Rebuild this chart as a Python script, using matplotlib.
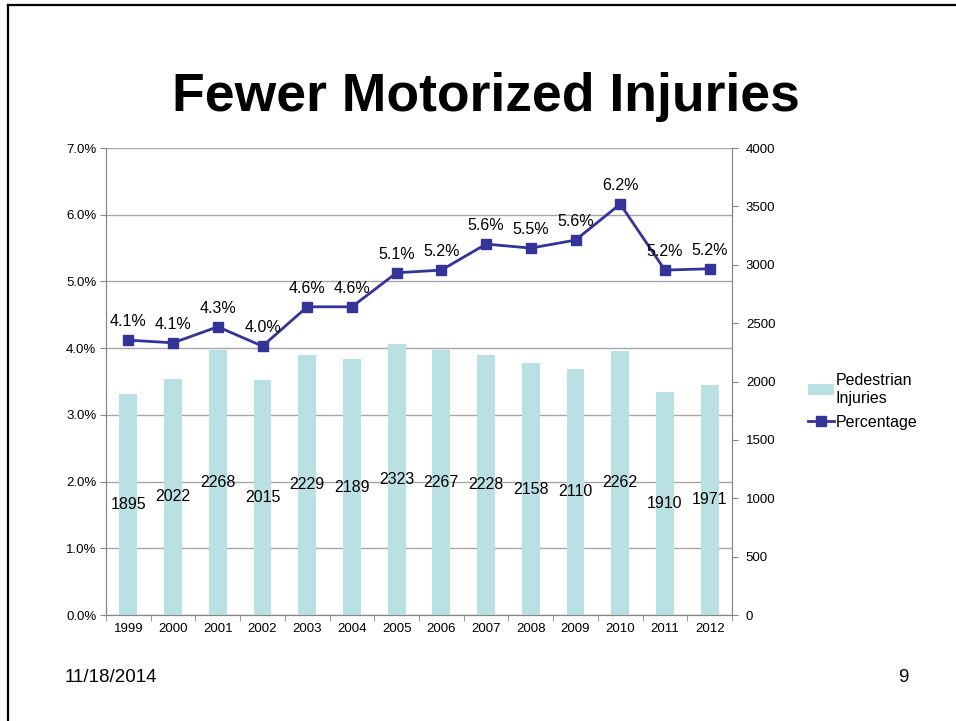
import matplotlib

matplotlib.use("Agg")
import matplotlib.pyplot as plt
from matplotlib.patches import Patch
from matplotlib.lines import Line2D
from matplotlib.ticker import FuncFormatter, MultipleLocator

plt.rcParams["font.family"] = ["Liberation Sans", "DejaVu Sans"]

years = ["1999", "2000", "2001", "2002", "2003", "2004", "2005",
         "2006", "2007", "2008", "2009", "2010", "2011", "2012"]
injuries = [1895, 2022, 2268, 2015, 2229, 2189, 2323,
            2267, 2228, 2158, 2110, 2262, 1910, 1971]
percentage = [4.12, 4.08, 4.32, 4.03, 4.62, 4.62, 5.13,
              5.17, 5.56, 5.50, 5.62, 6.16, 5.17, 5.19]
pct_labels = ["4.1%", "4.1%", "4.3%", "4.0%", "4.6%", "4.6%", "5.1%",
              "5.2%", "5.6%", "5.5%", "5.6%", "6.2%", "5.2%", "5.2%"]

BAR = "#b9e0e3"
LINE = "#333399"
GRID = "#a6a6a6"
AXIS = "#868686"

fig = plt.figure(figsize=(9.56, 7.21), dpi=100)

# slide frame: left and top edges only
fig.add_artist(Line2D([0.0088, 0.0088], [0.0, 0.9925], color="black", lw=1.6,
                      transform=fig.transFigure))
fig.add_artist(Line2D([0.0088, 1.0], [0.9925, 0.9925], color="black", lw=1.6,
                      transform=fig.transFigure))

fig.text(0.508, 0.865, "Fewer Motorized Injuries", ha="center", va="center",
         fontsize=38.5, fontweight="bold")
fig.text(0.068, 0.061, "11/18/2014", ha="left", va="center", fontsize=13.5)
fig.text(0.945, 0.061, "9", ha="center", va="center", fontsize=13.5)

ax = fig.add_axes([0.1109, 0.147, 0.6548, 0.6477])
ax2 = ax.twinx()

x = list(range(len(years)))

# left axis: percentage scale with gridlines
ax.set_ylim(0, 7)
ax.set_xlim(-0.5, len(years) - 0.5)
ax.yaxis.set_major_locator(MultipleLocator(1))
ax.yaxis.set_major_formatter(FuncFormatter(lambda v, p: f"{v:.1f}%"))
ax.grid(axis="y", color=GRID, lw=1.0)
ax.set_axisbelow(True)

# right axis: injuries
ax2.set_ylim(0, 4000)
ax2.yaxis.set_major_locator(MultipleLocator(500))
ax2.bar(x, injuries, width=0.4, color=BAR, zorder=2)
for xi, v in zip(x, injuries):
    ax2.text(xi, v / 2, str(v), ha="center", va="center", fontsize=11.5, zorder=5)

# percentage line, converted to right-axis units so it sits above the bars
pct_on_right = [p / 7 * 4000 for p in percentage]
ax2.plot(x, pct_on_right, color=LINE, lw=2.0, marker="s", markersize=7.5, zorder=4)
for xi, v, lab in zip(x, pct_on_right, pct_labels):
    ax2.annotate(lab, (xi, v), xytext=(0, 8), textcoords="offset points",
                 ha="center", va="bottom", fontsize=11.5, zorder=5)

ax.set_xticks(x)
ax.set_xticklabels(years)
ax.set_xticks([i - 0.5 for i in range(len(years) + 1)], minor=True)
ax.tick_params(axis="x", which="major", length=0, labelsize=9.5, pad=6)
ax.tick_params(axis="x", which="minor", length=4, color=AXIS)
ax.tick_params(axis="y", length=4, color=AXIS, labelsize=9.5, pad=3)
ax2.tick_params(axis="y", length=4, color=AXIS, labelsize=9.5, pad=6)

for a in (ax, ax2):
    for side in ("left", "right", "bottom"):
        a.spines[side].set_color(AXIS)
    a.spines["top"].set_visible(False)

handles = [Patch(facecolor=BAR, edgecolor="none"),
           Line2D([], [], color=LINE, lw=2.0, marker="s", markersize=7.5)]
fig.legend(handles, ["Pedestrian\nInjuries", "Percentage"],
           loc="center left", bbox_to_anchor=(0.839, 0.443), frameon=False,
           fontsize=11.5, handlelength=1.6, handletextpad=0.12,
           labelspacing=0.6, borderaxespad=0)

fig.savefig("out.png", dpi=100)
